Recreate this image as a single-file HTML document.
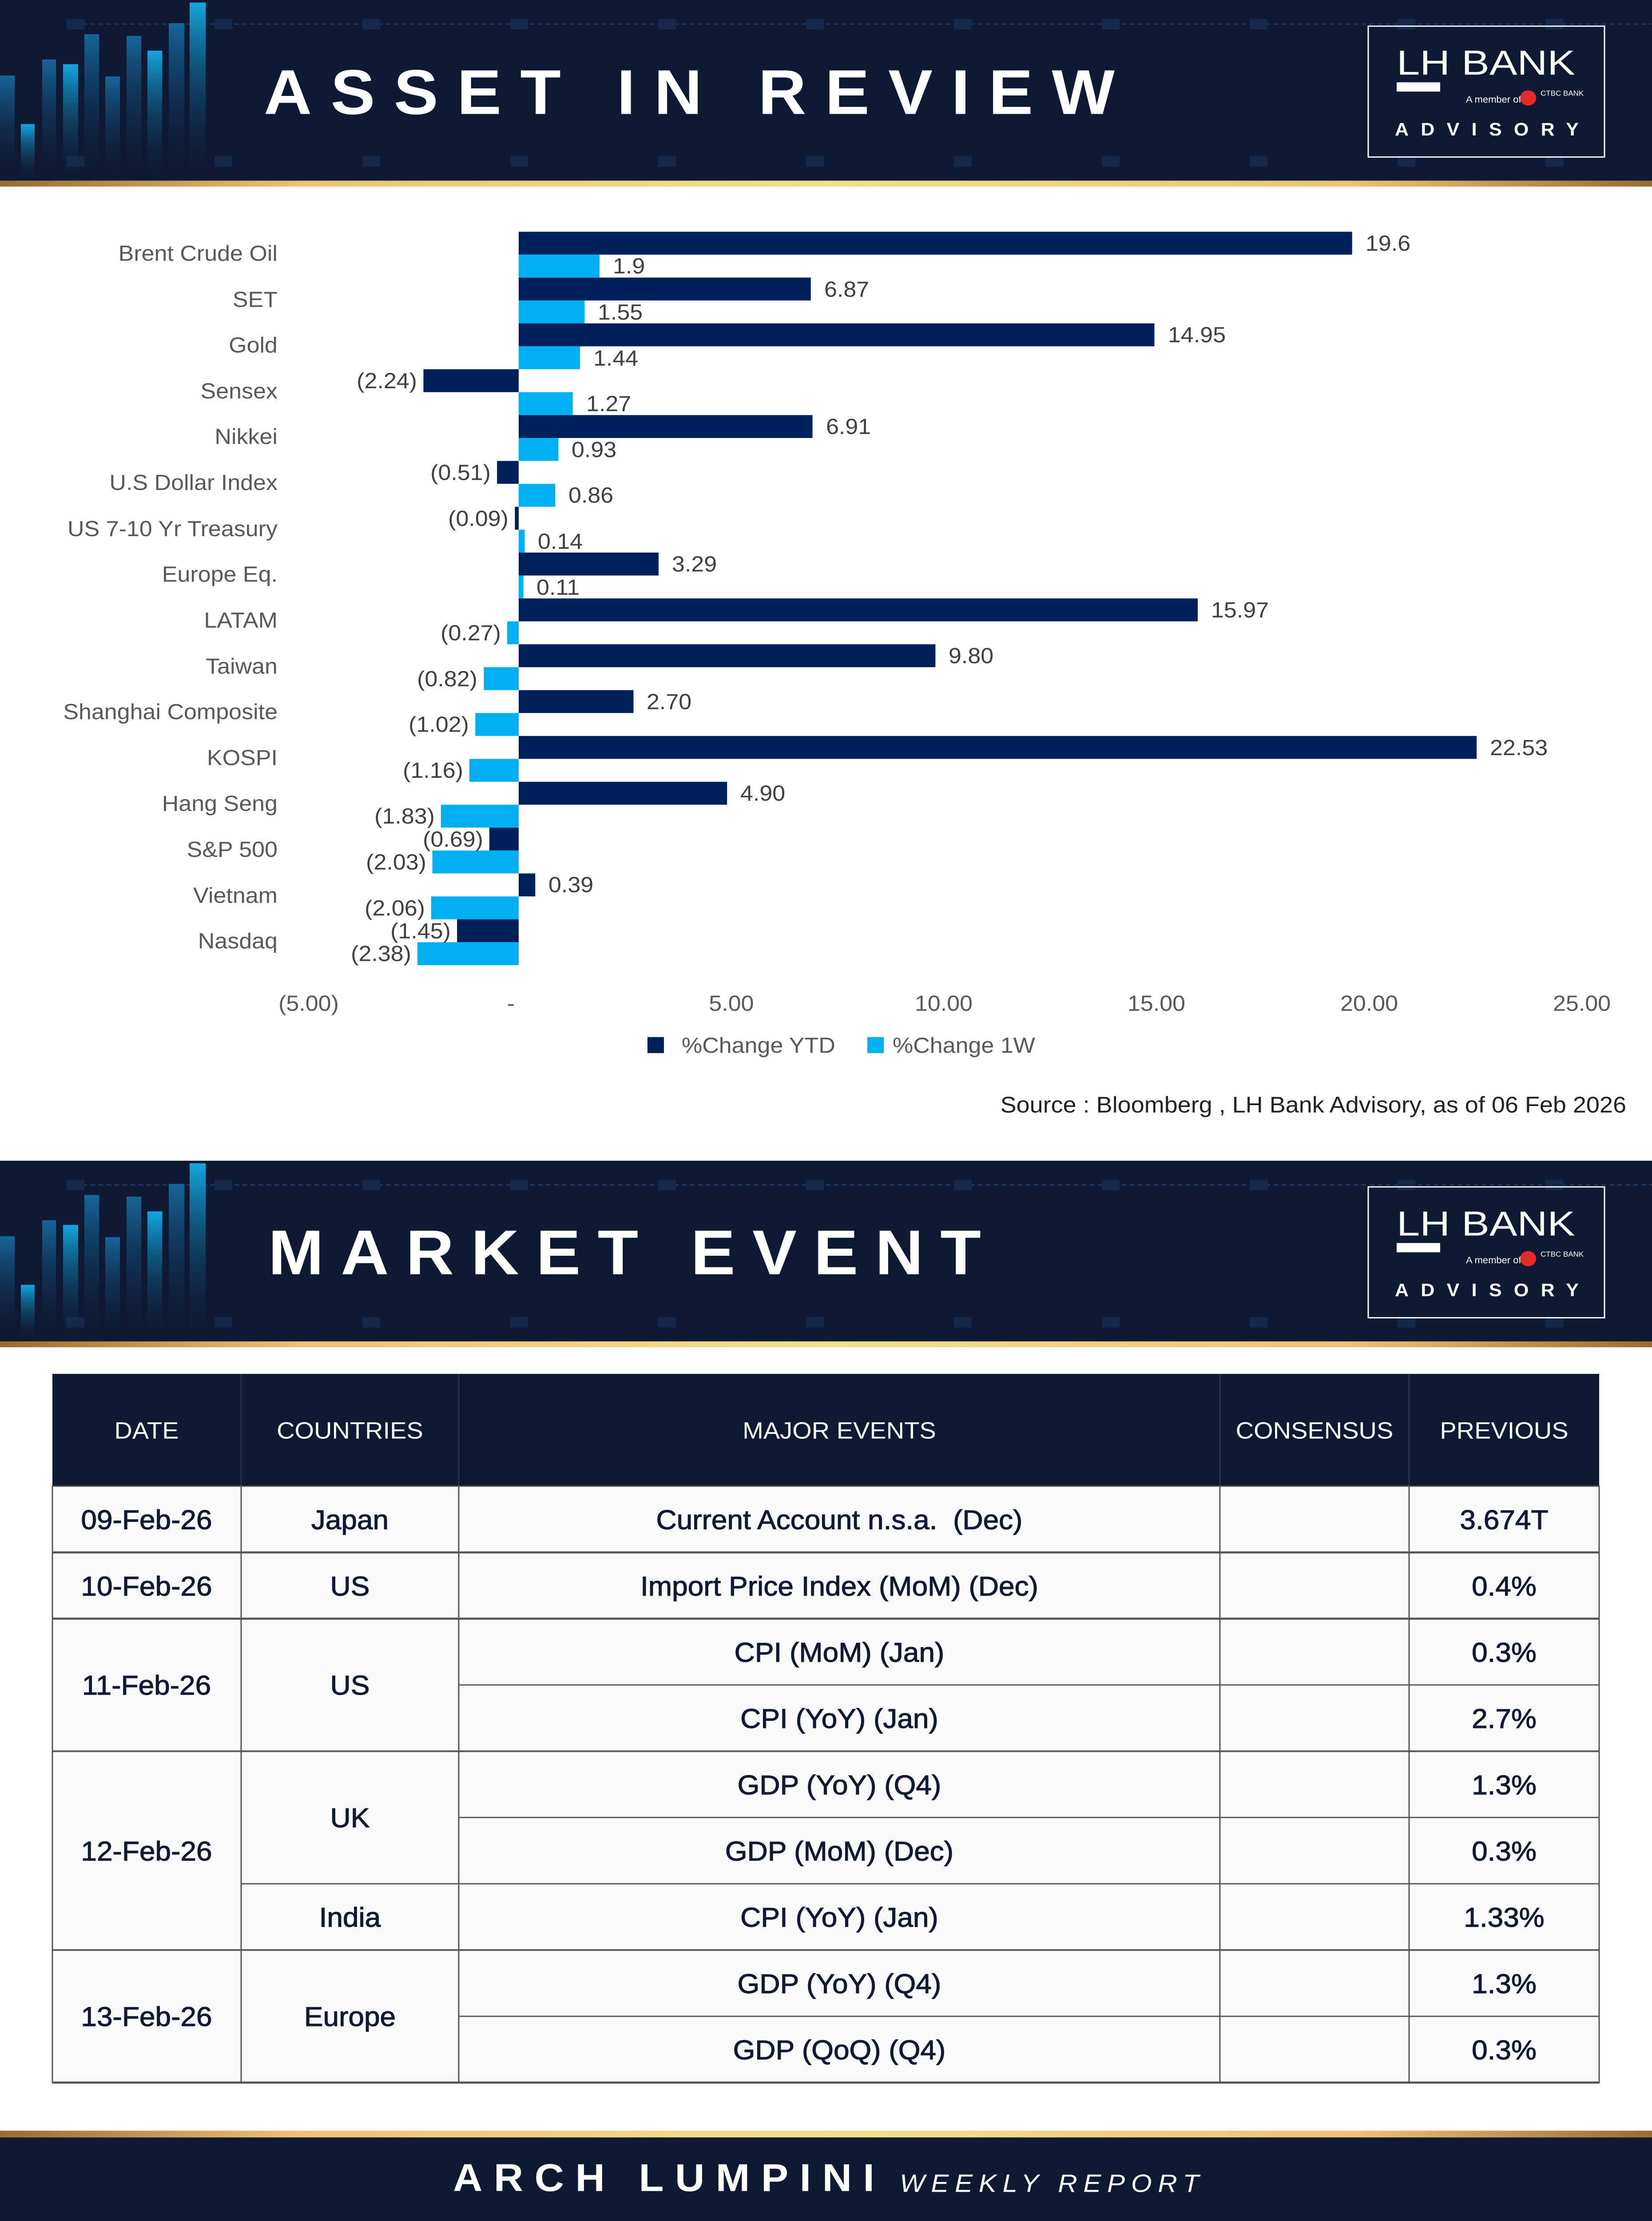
<!DOCTYPE html>
<html><head><meta charset="utf-8"><style>
html,body{margin:0;padding:0;background:#fff;width:100%;height:100%;overflow:hidden}
svg{display:block;position:fixed;left:0;top:0;width:100vw;height:100vh}
text{font-family:"Liberation Sans",sans-serif}
</style></head><body>
<svg viewBox="0 0 3720 5262" preserveAspectRatio="none" xmlns="http://www.w3.org/2000/svg">
<defs>
<linearGradient id="gold" x1="0" x2="1" y1="0" y2="0">
<stop offset="0" stop-color="#986c30"/><stop offset="0.18" stop-color="#efc271"/><stop offset="0.5" stop-color="#f1e188"/><stop offset="0.82" stop-color="#efc271"/><stop offset="1" stop-color="#986c30"/>
</linearGradient>
<linearGradient id="bb" x1="0" x2="0" y1="0" y2="1">
<stop offset="0" stop-color="#13a7e0"/><stop offset="1" stop-color="#0e1a33" stop-opacity="0"/>
</linearGradient>
<linearGradient id="bd" x1="0" x2="0" y1="0" y2="1">
<stop offset="0" stop-color="#17659a"/><stop offset="1" stop-color="#0e1a33" stop-opacity="0"/>
</linearGradient>
<g id="hdr">
<rect x="0" y="0" width="3720" height="430" fill="#0e1a33"/>
<line x1="150" y1="57" x2="3720" y2="57" stroke="#1d3a62" stroke-width="3" stroke-dasharray="10 8"/>
<g fill="#14294a">
<rect x="150" y="45" width="40" height="25"/><rect x="483" y="45" width="40" height="25"/><rect x="816" y="45" width="40" height="25"/><rect x="1149" y="45" width="40" height="25"/><rect x="1482" y="45" width="40" height="25"/><rect x="1815" y="45" width="40" height="25"/><rect x="2148" y="45" width="40" height="25"/><rect x="2481" y="45" width="40" height="25"/><rect x="2814" y="45" width="40" height="25"/><rect x="3147" y="45" width="40" height="25"/><rect x="3480" y="45" width="40" height="25"/>
<rect x="150" y="370" width="40" height="25"/><rect x="483" y="370" width="40" height="25"/><rect x="816" y="370" width="40" height="25"/><rect x="1149" y="370" width="40" height="25"/><rect x="1482" y="370" width="40" height="25"/><rect x="1815" y="370" width="40" height="25"/><rect x="2148" y="370" width="40" height="25"/><rect x="2481" y="370" width="40" height="25"/><rect x="2814" y="370" width="40" height="25"/><rect x="3147" y="370" width="40" height="25"/><rect x="3480" y="370" width="40" height="25"/>
</g>
<rect x="0" y="179" width="33" height="250" fill="url(#bd)"/>
<rect x="47" y="294" width="31" height="135" fill="url(#bb)"/>
<rect x="95" y="141" width="31" height="288" fill="url(#bd)"/>
<rect x="142" y="152" width="34" height="277" fill="url(#bb)"/>
<rect x="190" y="81" width="33" height="348" fill="url(#bd)"/>
<rect x="237" y="181" width="33" height="248" fill="url(#bd)"/>
<rect x="285" y="85" width="33" height="344" fill="url(#bd)"/>
<rect x="332" y="120" width="33" height="309" fill="url(#bb)"/>
<rect x="380" y="55" width="35" height="374" fill="url(#bd)"/>
<rect x="427" y="6" width="36" height="423" fill="url(#bb)"/>
<rect x="3081" y="62" width="532" height="310" fill="none" stroke="#ffffff" stroke-width="3"/>
<text x="3145" y="177" font-size="82" fill="#fff" textLength="402" lengthAdjust="spacingAndGlyphs">LH BANK</text>
<rect x="3145" y="195" width="98" height="22" fill="#fff"/>
<text x="3301" y="243" font-size="22" fill="#fff">A member of</text>
<circle cx="3441" cy="232" r="18" fill="#e52a2a"/>
<text x="3469" y="227" font-size="17" fill="#fff">CTBC BANK</text>
<text x="3141" y="321" font-size="43" font-weight="bold" fill="#fff" textLength="414" lengthAdjust="spacing">ADVISORY</text>
<rect x="0" y="428" width="3720" height="14" fill="url(#gold)"/>
</g>
</defs>

<rect x="0" y="0" width="3720" height="5262" fill="#fff"/>
<use href="#hdr"/>
<text x="594" y="270" font-size="150" font-weight="bold" fill="#fff" textLength="1916" lengthAdjust="spacing">ASSET IN REVIEW</text>

<g font-size="52" fill="#595959" text-anchor="end">
<text x="625" y="618">Brent Crude Oil</text>
<text x="625" y="727">SET</text>
<text x="625" y="835">Gold</text>
<text x="625" y="944">Sensex</text>
<text x="625" y="1052">Nikkei</text>
<text x="625" y="1161">U.S Dollar Index</text>
<text x="625" y="1270">US 7-10 Yr Treasury</text>
<text x="625" y="1378">Europe Eq.</text>
<text x="625" y="1487">LATAM</text>
<text x="625" y="1596">Taiwan</text>
<text x="625" y="1704">Shanghai Composite</text>
<text x="625" y="1813">KOSPI</text>
<text x="625" y="1921">Hang Seng</text>
<text x="625" y="2030">S&amp;P 500</text>
<text x="625" y="2139">Vietnam</text>
<text x="625" y="2247">Nasdaq</text>
</g>
<g fill="#00205b">
<rect x="1168" y="549" width="1876.7" height="54.3"/>
<rect x="1168" y="657.6" width="657.8" height="54.3"/>
<rect x="1168" y="766.2" width="1431.5" height="54.3"/>
<rect x="953.5" y="874.8" width="214.5" height="54.3"/>
<rect x="1168" y="983.4" width="661.6" height="54.3"/>
<rect x="1119.2" y="1092" width="48.8" height="54.3"/>
<rect x="1159.4" y="1200.6" width="8.6" height="54.3"/>
<rect x="1168" y="1309.2" width="315" height="54.3"/>
<rect x="1168" y="1417.8" width="1529.1" height="54.3"/>
<rect x="1168" y="1526.4" width="938.4" height="54.3"/>
<rect x="1168" y="1635" width="258.5" height="54.3"/>
<rect x="1168" y="1743.6" width="2157.2" height="54.3"/>
<rect x="1168" y="1852.2" width="469.2" height="54.3"/>
<rect x="1101.9" y="1960.8" width="66.1" height="54.3"/>
<rect x="1168" y="2069.4" width="37.3" height="54.3"/>
<rect x="1029.2" y="2178" width="138.8" height="54.3"/>
</g>
<g fill="#00b0f0">
<rect x="1168" y="603.3" width="181.9" height="54.3"/>
<rect x="1168" y="711.9" width="148.4" height="54.3"/>
<rect x="1168" y="820.5" width="137.9" height="54.3"/>
<rect x="1168" y="929.1" width="121.6" height="54.3"/>
<rect x="1168" y="1037.7" width="89" height="54.3"/>
<rect x="1168" y="1146.3" width="82.3" height="54.3"/>
<rect x="1168" y="1254.9" width="13.4" height="54.3"/>
<rect x="1168" y="1363.5" width="10.5" height="54.3"/>
<rect x="1142.1" y="1472.1" width="25.9" height="54.3"/>
<rect x="1089.5" y="1580.7" width="78.5" height="54.3"/>
<rect x="1070.3" y="1689.3" width="97.7" height="54.3"/>
<rect x="1056.9" y="1797.9" width="111.1" height="54.3"/>
<rect x="992.8" y="1906.5" width="175.2" height="54.3"/>
<rect x="973.6" y="2015.1" width="194.4" height="54.3"/>
<rect x="970.8" y="2123.7" width="197.2" height="54.3"/>
<rect x="940.1" y="2232.3" width="227.9" height="54.3"/>
</g>
<g font-size="52" fill="#404040">
<text x="3075" y="594">19.6</text>
<text x="1380" y="648">1.9</text>
<text x="1856" y="703">6.87</text>
<text x="1346" y="757">1.55</text>
<text x="2630" y="811">14.95</text>
<text x="1336" y="866">1.44</text>
<text x="939" y="920" text-anchor="end">(2.24)</text>
<text x="1320" y="974">1.27</text>
<text x="1860" y="1028">6.91</text>
<text x="1287" y="1083">0.93</text>
<text x="1105" y="1137" text-anchor="end">(0.51)</text>
<text x="1280" y="1191">0.86</text>
<text x="1145" y="1246" text-anchor="end">(0.09)</text>
<text x="1211" y="1300">0.14</text>
<text x="1513" y="1354">3.29</text>
<text x="1208" y="1409">0.11</text>
<text x="2727" y="1463">15.97</text>
<text x="1128" y="1517" text-anchor="end">(0.27)</text>
<text x="2136" y="1571">9.80</text>
<text x="1075" y="1626" text-anchor="end">(0.82)</text>
<text x="1456" y="1680">2.70</text>
<text x="1056" y="1734" text-anchor="end">(1.02)</text>
<text x="3355" y="1789">22.53</text>
<text x="1043" y="1843" text-anchor="end">(1.16)</text>
<text x="1667" y="1897">4.90</text>
<text x="979" y="1951" text-anchor="end">(1.83)</text>
<text x="1088" y="2006" text-anchor="end">(0.69)</text>
<text x="960" y="2060" text-anchor="end">(2.03)</text>
<text x="1235" y="2114">0.39</text>
<text x="957" y="2169" text-anchor="end">(2.06)</text>
<text x="1015" y="2223" text-anchor="end">(1.45)</text>
<text x="926" y="2277" text-anchor="end">(2.38)</text>
</g>
<g font-size="52" fill="#595959" text-anchor="middle">
<text x="695" y="2395">(5.00)</text>
<text x="1150" y="2395">-</text>
<text x="1647" y="2395">5.00</text>
<text x="2125" y="2395">10.00</text>
<text x="2604" y="2395">15.00</text>
<text x="3083" y="2395">20.00</text>
<text x="3562" y="2395">25.00</text>
</g>
<rect x="1458" y="2457" width="37" height="38" fill="#00205b"/>
<text x="1535" y="2494" font-size="52" fill="#595959">%Change YTD</text>
<rect x="1953" y="2457" width="37" height="38" fill="#00b0f0"/>
<text x="2010" y="2494" font-size="52" fill="#595959">%Change 1W</text>
<text x="3662" y="2636" font-size="54" fill="#222" text-anchor="end">Source : Bloomberg , LH Bank Advisory, as of 06 Feb 2026</text>

<use href="#hdr" y="2750"/>
<text x="604" y="3019" font-size="150" font-weight="bold" fill="#fff" textLength="1605" lengthAdjust="spacing">MARKET EVENT</text>

<rect x="118" y="3255" width="3483" height="266" fill="#0e1a33"/>
<g stroke="#26324d" stroke-width="3">
<line x1="543" y1="3255" x2="543" y2="3521"/><line x1="1033" y1="3255" x2="1033" y2="3521"/><line x1="2747" y1="3255" x2="2747" y2="3521"/><line x1="3173" y1="3255" x2="3173" y2="3521"/>
</g>
<g font-size="56" fill="#fff" text-anchor="middle">
<text x="330" y="3408">DATE</text>
<text x="788" y="3408">COUNTRIES</text>
<text x="1890" y="3408">MAJOR EVENTS</text>
<text x="2960" y="3408">CONSENSUS</text>
<text x="3387" y="3408">PREVIOUS</text>
</g>
<rect x="118" y="3521" width="3483" height="1413" fill="#f9f9f9" stroke="#555" stroke-width="3"/>
<g stroke="#555" stroke-width="3">
<line x1="543" y1="3521" x2="543" y2="4934"/><line x1="1033" y1="3521" x2="1033" y2="4934"/><line x1="2747" y1="3521" x2="2747" y2="4934"/><line x1="3173" y1="3521" x2="3173" y2="4934"/>
<line x1="118" y1="3678" x2="3601" y2="3678" stroke-width="5"/>
<line x1="118" y1="3835" x2="3601" y2="3835" stroke-width="5"/>
<line x1="1033" y1="3992" x2="3601" y2="3992"/>
<line x1="118" y1="4149" x2="3601" y2="4149" stroke-width="4"/>
<line x1="1033" y1="4306" x2="3601" y2="4306"/>
<line x1="543" y1="4463" x2="3601" y2="4463"/>
<line x1="118" y1="4620" x2="3601" y2="4620" stroke-width="4"/>
<line x1="1033" y1="4777" x2="3601" y2="4777"/>
<line x1="118" y1="4934" x2="3601" y2="4934" stroke-width="5"/>
</g>
<g font-size="64" fill="#0f1a33" stroke="#0f1a33" stroke-width="1.2" text-anchor="middle">
<text x="330" y="3623">09-Feb-26</text><text x="788" y="3623">Japan</text><text x="1890" y="3623">Current Account n.s.a.&#160; (Dec)</text><text x="3387" y="3623">3.674T</text>
<text x="330" y="3780">10-Feb-26</text><text x="788" y="3780">US</text><text x="1890" y="3780">Import Price Index (MoM) (Dec)</text><text x="3387" y="3780">0.4%</text>
<text x="330" y="4015">11-Feb-26</text><text x="788" y="4015">US</text>
<text x="1890" y="3937">CPI (MoM) (Jan)</text><text x="3387" y="3937">0.3%</text>
<text x="1890" y="4094">CPI (YoY) (Jan)</text><text x="3387" y="4094">2.7%</text>
<text x="330" y="4408">12-Feb-26</text><text x="788" y="4329">UK</text><text x="788" y="4565">India</text>
<text x="1890" y="4251">GDP (YoY) (Q4)</text><text x="3387" y="4251">1.3%</text>
<text x="1890" y="4408">GDP (MoM) (Dec)</text><text x="3387" y="4408">0.3%</text>
<text x="1890" y="4565">CPI (YoY) (Jan)</text><text x="3387" y="4565">1.33%</text>
<text x="330" y="4800">13-Feb-26</text><text x="788" y="4800">Europe</text>
<text x="1890" y="4722">GDP (YoY) (Q4)</text><text x="3387" y="4722">1.3%</text>
<text x="1890" y="4879">GDP (QoQ) (Q4)</text><text x="3387" y="4879">0.3%</text>
</g>

<rect x="0" y="5048" width="3720" height="16" fill="url(#gold)"/>
<rect x="0" y="5064" width="3720" height="198" fill="#0e1a33"/>
<text x="1020" y="5191" font-size="92" font-weight="bold" fill="#fff" textLength="949" lengthAdjust="spacing">ARCH LUMPINI</text>
<text x="2026" y="5193" font-size="60" font-style="italic" fill="#fff" textLength="674" lengthAdjust="spacing">WEEKLY REPORT</text>
</svg>
</body></html>
